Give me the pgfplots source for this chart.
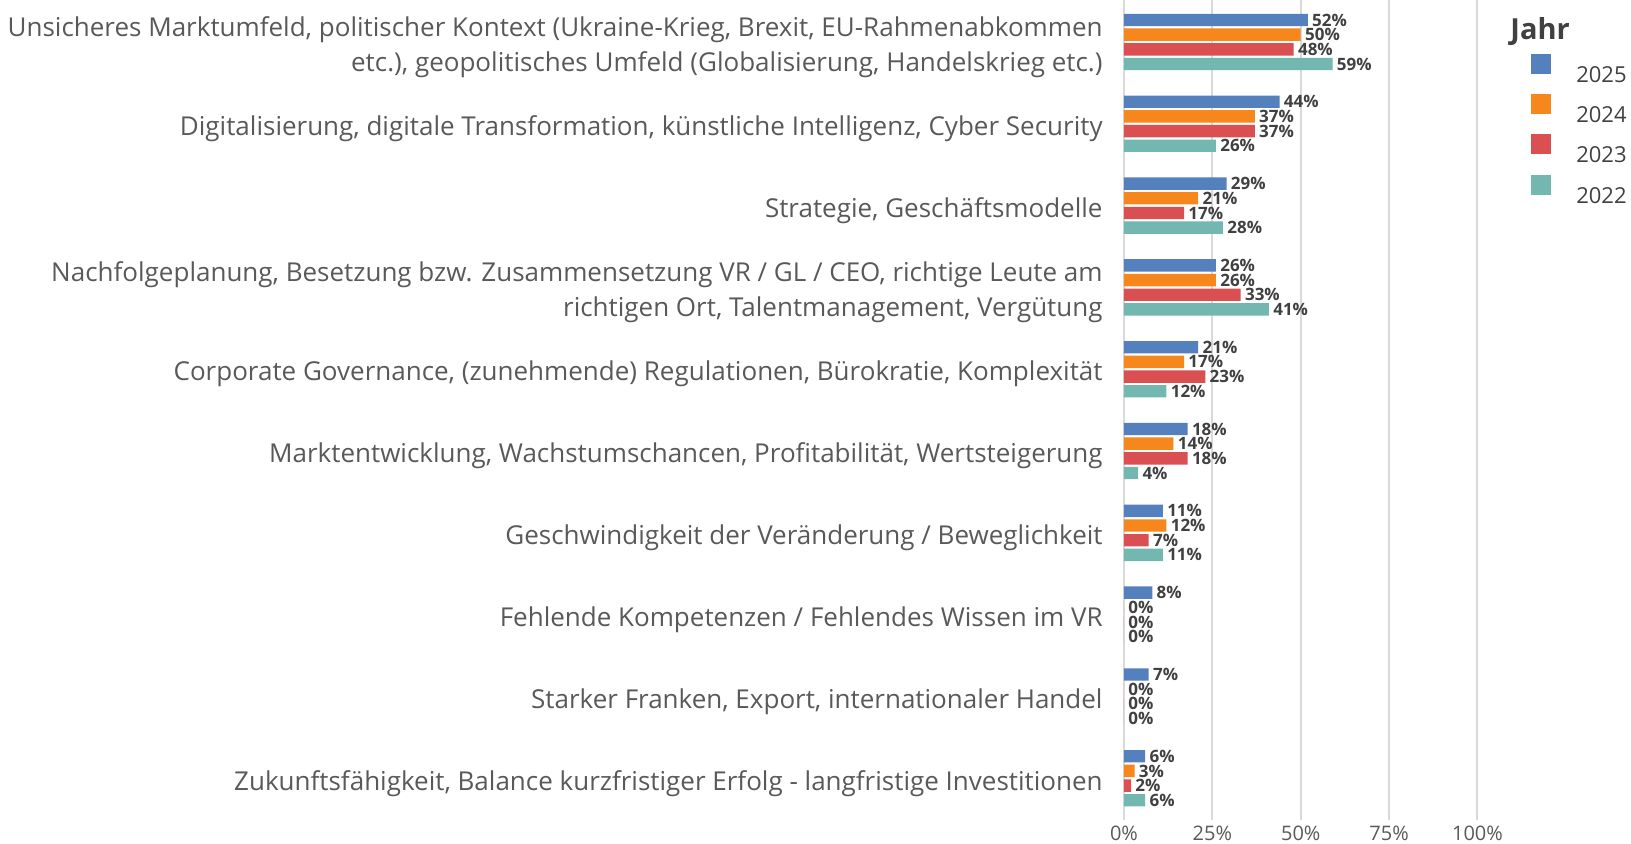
\documentclass[border=0pt]{standalone}
\usepackage{pgfplots}
\pgfplotsset{compat=1.18}
\usepackage{fontspec}
\setmainfont{Open Sans}
\definecolor{c25}{HTML}{5580BE}
\definecolor{c24}{HTML}{F5871C}
\definecolor{c23}{HTML}{D94F52}
\definecolor{c22}{HTML}{72B7B0}
\definecolor{lbl}{HTML}{595959}
\definecolor{val}{HTML}{404040}
\definecolor{gridc}{HTML}{D9D9D9}
\pgfplotsset{/pgf/number format/assume math mode=true}

\begin{document}
\begin{tikzpicture}
\begin{axis}[
  at={(0,0)}, anchor=south west,
  scale only axis, width=176.75pt, height=410pt,
  xbar, bar width=6.2pt,
  xmin=0, xmax=100, ymin=-0.51, ymax=9.513,
  xtick={0,25,50,75,100},
  xticklabel={\pgfmathprintnumber{\tick}\%},
  xticklabel style={font=\fontsize{10}{12}\selectfont, color=lbl, inner ysep=0pt, yshift=-3pt},
  ytick={0,...,9},
  yticklabels={
    {Zukunftsfähigkeit, Balance kurzfristiger Erfolg - langfristige Investitionen},
    {Starker Franken, Export, internationaler Handel},
    {Fehlende Kompetenzen / Fehlendes Wissen im VR},
    {Geschwindigkeit der Veränderung / Beweglichkeit},
    {Marktentwicklung, Wachstumschancen, Profitabilität, Wertsteigerung},
    {Corporate Governance, (zunehmende) Regulationen, Bürokratie, Komplexität},
    {Nachfolgeplanung, Besetzung bzw. Zusammensetzung VR / GL / CEO, richtige Leute am\\richtigen Ort, Talentmanagement, Vergütung},
    {Strategie, Geschäftsmodelle},
    {Digitalisierung, digitale Transformation, künstliche Intelligenz, Cyber Security},
    {Unsicheres Marktumfeld, politischer Kontext (Ukraine-Krieg, Brexit, EU-Rahmenabkommen\\etc.), geopolitisches Umfeld (Globalisierung, Handelskrieg etc.)}},
  yticklabel style={font=\fontsize{13}{17.5}\selectfont, color=lbl, align=right, inner xsep=0pt, xshift=-10.5pt, yshift=-2.5pt},
  major tick length=0pt,
  axis line style={draw=none},
  xmajorgrids, grid style={gridc, line width=1pt},
  clip=false,
  nodes near coords={\pgfmathprintnumber{\pgfplotspointmeta}\%},
  nodes near coords style={font=\bfseries\fontsize{8.5}{8.5}\selectfont, color=val, anchor=west, inner xsep=2pt, inner ysep=0pt},
  legend image code/.code={\fill[#1] (0pt,1pt) rectangle (10pt,11pt);},
  legend style={at={(axis description cs:1.151,0.935)}, anchor=north west,
    draw=none, fill=none, inner sep=0pt, row sep=4.4pt,
    font=\fontsize{11}{13}\selectfont, text=val,
    nodes={inner sep=0pt},
    /tikz/every odd column/.append style={column sep=12.5pt}},
  legend cell align=left,
]
\addplot[fill=c25, draw=none, bar shift=11.0pt] coordinates {
  (6,0) (7,1) (8,2) (11,3) (18,4) (21,5) (26,6) (29,7) (44,8) (52,9)};
\addlegendentry{2025}
\addplot[fill=c24, draw=none, bar shift=3.68pt] coordinates {
  (3,0) (0,1) (0,2) (12,3) (14,4) (17,5) (26,6) (21,7) (37,8) (50,9)};
\addlegendentry{2024}
\addplot[fill=c23, draw=none, bar shift=-3.68pt] coordinates {
  (2,0) (0,1) (0,2) (7,3) (18,4) (23,5) (33,6) (17,7) (37,8) (48,9)};
\addlegendentry{2023}
\addplot[fill=c22, draw=none, bar shift=-11.0pt] coordinates {
  (6,0) (0,1) (0,2) (11,3) (4,4) (12,5) (41,6) (28,7) (26,8) (59,9)};
\addlegendentry{2022}
\node[font=\bfseries\fontsize{14.5}{16}\selectfont, text=val, anchor=west, inner xsep=0pt]
  at (axis description cs:1.092,0.962) {Jahr};
\end{axis}
\pgfresetboundingbox
\path (-562pt,-11.5pt) rectangle (253.5pt,410pt);
\end{tikzpicture}
\end{document}
